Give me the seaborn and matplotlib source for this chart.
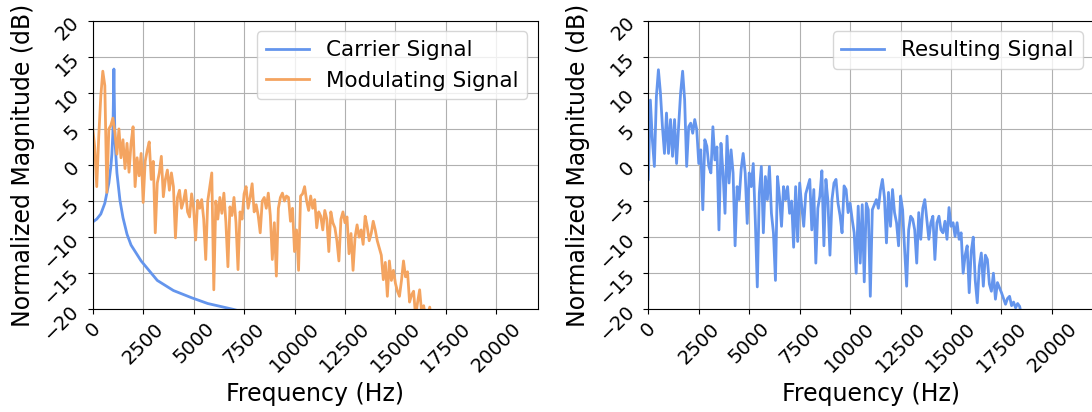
import numpy as np
import seaborn as sns
import matplotlib
matplotlib.use("Agg")
import matplotlib.pyplot as plt

# Spectra (dB), 100 Hz bins
modulating_db = [
    5.1, 2.5, -3.0, 4.0, 9.5, 13.0, 11.0, -3.8, 5.0, 5.5,
    6.5, 4.5, 1.5, 5.0, 1.0, 3.5, -0.5, 3.0, -1.0, 3.0,
    5.3, -3.0, 1.0, -1.5, 1.6, -5.2, 0.5, 2.0, 3.2, -2.0,
    0.5, -9.4, -2.5, -1.1, 1.2, -4.4, -2.0, -0.7, -3.5, -1.1,
    -3.0, -10.1, -4.5, -3.5, -6.0, -5.0, -3.5, -6.5, -7.2, -4.0,
    -6.0, -10.4, -4.9, -6.0, -4.8, -7.5, -13.1, -5.0, -3.0, -1.1,
    -17.3, -5.0, -7.5, -4.5, -6.7, -3.9, -8.0, -14.1, -5.8, -7.0,
    -4.5, -8.0, -14.5, -6.5, -7.5, -4.0, -3.0, -6.0, -4.5, -2.6,
    -6.5, -5.5, -7.0, -9.4, -5.0, -4.5, -6.0, -3.9, -7.0, -13.1,
    -8.0, -15.4, -6.0, -4.5, -3.9, -5.0, -4.3, -4.5, -7.8, -6.0,
    -12.0, -9.0, -14.6, -4.3, -4.0, -3.0, -5.0, -6.3, -4.3, -6.0,
    -4.8, -8.7, -6.5, -7.1, -9.0, -6.3, -7.5, -12.0, -6.5, -8.0,
    -8.7, -10.5, -13.3, -7.5, -6.5, -8.0, -7.2, -12.3, -9.5, -14.6,
    -10.0, -8.3, -10.0, -9.0, -11.0, -7.1, -8.5, -10.5, -9.5, -7.8,
    -9.0, -10.5, -11.5, -12.5, -15.9, -13.5, -18.2, -13.3, -16.0, -14.6,
    -16.4, -17.5, -18.2, -16.0, -13.3, -15.5, -14.8, -19.0, -18.0, -17.5,
    -21.0, -19.0, -17.3, -20.5, -19.5, -21.5, -20.8, -19.7, -22.0, -23.0,
    -24.0,
]

resulting_db = [
    -2.0, 9.0, 3.5, -0.2, 9.5, 13.2, 10.0, 5.3, 1.6, 7.2,
    1.6, 6.3, 1.2, 6.3, 0.2, 5.3, 10.0, 13.0, 9.0, -0.2,
    5.3, 5.8, 4.4, 6.3, 4.9, 0.2, 2.1, -6.2, 3.5, 2.6,
    -0.2, -1.1, 5.3, 0.7, 2.5, -9.0, 3.0, -1.1, -6.7, 4.0,
    -2.5, 2.1, -1.1, -11.2, -3.0, -4.8, -0.6, 1.6, -1.1, -8.1,
    -1.1, -3.0, 0.2, -7.6, -16.9, -3.9, -0.2, -9.4, -1.6, -4.8,
    -0.2, -6.7, -9.4, -16.0, -1.6, -4.4, -8.5, -3.0, -4.8, -3.0,
    -6.7, -5.0, -11.4, -3.0, -10.6, -2.5, -5.7, -8.5, -4.0, -3.0,
    -2.0, -9.0, -3.4, -13.6, -6.0, -4.3, -0.8, -11.2, -2.0, -5.0,
    -12.5, -4.8, -2.5, -2.0, -5.3, -7.0, -9.4, -2.9, -3.4, -6.6,
    -5.3, -7.5, -9.4, -15.0, -5.7, -13.6, -5.5, -16.2, -5.3, -6.2,
    -18.2, -6.2, -5.5, -4.8, -6.0, -3.5, -2.0, -4.5, -10.8, -3.8,
    -8.5, -3.4, -6.6, -8.0, -11.2, -4.3, -6.2, -11.7, -16.8, -9.0,
    -7.1, -7.5, -9.0, -13.6, -6.6, -10.3, -6.0, -4.8, -7.5, -10.3,
    -8.0, -7.1, -13.1, -8.0, -7.1, -9.0, -9.4, -7.8, -10.3, -5.9,
    -8.5, -8.0, -9.9, -8.0, -10.3, -9.4, -15.0, -12.5, -11.2, -17.7,
    -12.0, -10.0, -16.0, -19.1, -14.0, -12.2, -16.8, -12.5, -13.1, -16.5,
    -17.5, -15.0, -18.6, -16.3, -17.0, -17.7, -18.5, -19.3, -18.5, -18.2,
    -19.5, -19.0, -19.8, -19.2, -19.6, -21.0, -22.5, -24.0,
]

# carrier is smooth, so fewer points
carrier_hz = [0, 200, 400, 600, 800, 900, 950, 1000, 1050, 1100, 1200, 1350,
              1500, 1700, 1900, 2400, 3200, 4000, 4900, 5700, 6950, 8000, 10000]
carrier_db = [-7.9, -7.5, -6.8, -5.3, -2.5, -0.2, 1.5, 4.5, 13.3, 3.5, -1.1, -4.9,
              -7.3, -9.6, -11.1, -13.3, -16.0, -17.4, -18.4, -19.2, -20.0, -20.8, -22.0]

mod_hz = np.arange(len(modulating_db)) * 100
res_hz = np.arange(len(resulting_db)) * 100

blue = "cornflowerblue"
orange = "sandybrown"

fig = plt.figure(figsize=(10.92, 4.12), dpi=100)
ax1 = fig.add_axes([0.0849, 0.2493, 0.4075, 0.7005])
ax2 = fig.add_axes([0.5937, 0.2493, 0.4075, 0.7005])

sns.lineplot(x=carrier_hz, y=carrier_db, ax=ax1, color=blue, linewidth=2, label="Carrier Signal")
sns.lineplot(x=mod_hz, y=modulating_db, ax=ax1, color=orange, linewidth=2, label="Modulating Signal")
sns.lineplot(x=res_hz, y=resulting_db, ax=ax2, color=blue, linewidth=2, label="Resulting Signal")

for ax in (ax1, ax2):
    ax.set_xlim(0, 22050)
    ax.set_ylim(-20, 20)
    ax.set_xticks(np.arange(0, 22050, 2500))
    ax.set_yticks(np.arange(-20, 21, 5))
    ax.tick_params(axis="x", labelrotation=45, labelsize=14)
    ax.tick_params(axis="y", labelrotation=45, labelsize=14)
    ax.grid(True)
    ax.set_xlabel("Frequency (Hz)", fontsize=17)
    ax.set_ylabel("Normalized Magnitude (dB)", fontsize=17)
    ax.legend(loc="upper right", fontsize=15.5)

fig.savefig("out.png", dpi=100)
